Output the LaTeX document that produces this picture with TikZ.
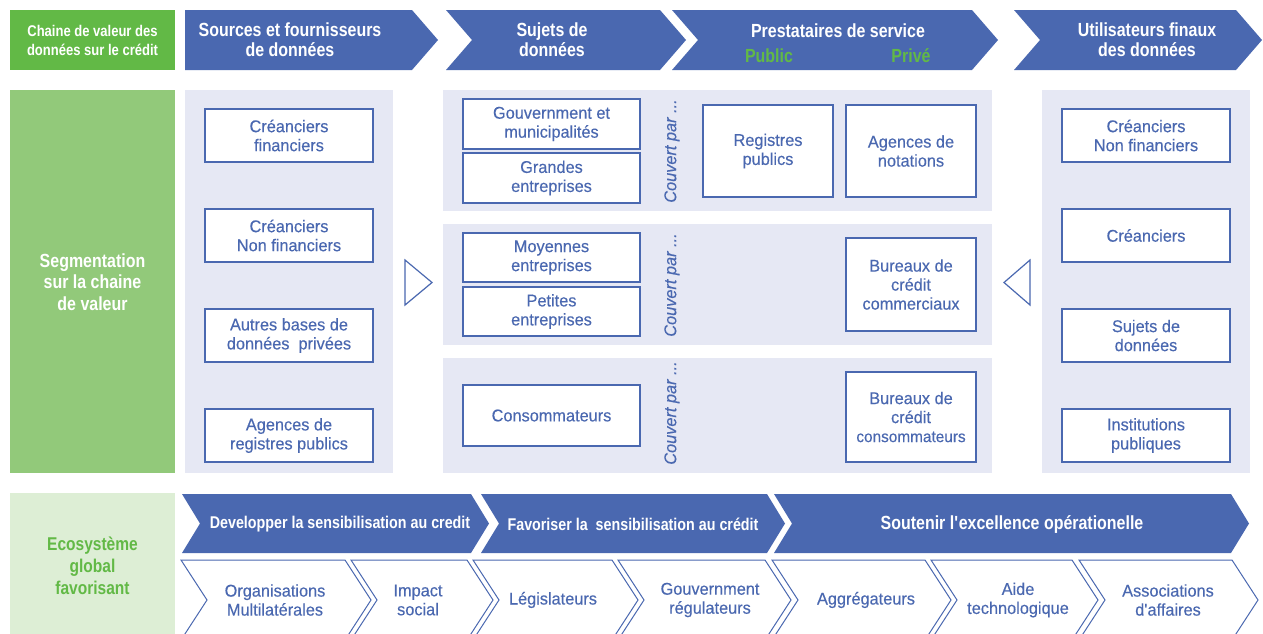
\documentclass[tikz,border=0pt]{standalone}
\usepackage{fontspec}
\setmainfont[FakeStretch=0.96, FakeBold=0.25]{Liberation Sans}
\newfontfamily\condfont[FakeStretch=0.84]{Liberation Sans}
\definecolor{navy}{RGB}{74,104,176}
\definecolor{lavender}{RGB}{230,232,244}
\definecolor{leaf}{RGB}{98,185,70}
\definecolor{softleaf}{RGB}{146,201,122}
\definecolor{paleleaf}{RGB}{221,238,213}
\newcommand\bodyfont{\fontsize{17}{19}\selectfont}
\newcommand\headfont{\condfont\bfseries\fontsize{19}{20}\selectfont}
\newcommand\bandfont{\condfont\bfseries\fontsize{17}{20}\selectfont}
% chevron band: #1 style, #2 left x, #3 right x, #4 top y, #5 bottom y, #6 point depth
\newcommand\chevband[6]{%
  \path[#1] (#2,#4) -- (#3,#4) -- ({#3+#6},{(#4+#5)/2}) -- (#3,#5) -- (#2,#5)
    -- ({#2+#6},{(#4+#5)/2}) -- cycle;}
\begin{document}
\begin{tikzpicture}[x=1pt,y=-1pt,
  itembox/.style={draw=navy, line width=2pt, fill=white, text=navy, align=center,
    font=\bodyfont, inner sep=0pt},
  headtext/.style={text=white, align=center, font=\headfont},
  bandhead/.style={text=white, align=center, font=\bandfont},
  bandtext/.style={text=navy, align=center, font=\bodyfont},
  covered/.style={text=navy, font=\itshape\fontsize{17}{18}\selectfont, rotate=90},
  bluefill/.style={fill=navy},
  outlined/.style={draw=navy, line width=1pt, fill=white},
  pointer/.style={draw=navy, line width=1.2pt, fill=white, line join=miter}]
\clip (0,0) rectangle (1263,633);
\fill[white] (0,0) rectangle (1263,633);

% ---- header row ----
\fill[leaf] (10,10) rectangle (175,70);
\node[headtext, font=\condfont\bfseries\fontsize{15.5}{19}\selectfont] (hchain) at (92.5,40)
  {Chaine de valeur des\\données sur le crédit};
\fill[navy] (185,10) -- (412,10) -- (438,40) -- (412,70) -- (185,70) -- cycle;
\node[headtext] (hsrc) at (290,40) {Sources et fournisseurs\\de données};
\chevband{bluefill}{446}{660}{10}{70}{26}
\node[headtext] (hsubj) at (552,40) {Sujets de\\données};
\chevband{bluefill}{672}{972}{10}{70}{26}
\node[headtext] (hprov) at (838,31) {Prestataires de service};
\node[text=leaf, font=\headfont] (hpub) at (769,56) {Public};
\node[text=leaf, font=\headfont] (hpriv) at (911,56) {Privé};
\chevband{bluefill}{1014}{1236}{10}{70}{26}
\node[headtext] (huser) at (1147,40) {Utilisateurs finaux\\des données};

% ---- segmentation ----
\fill[softleaf] (10,90) rectangle (175,473);
\node[headtext, font=\condfont\bfseries\fontsize{19}{21.5}\selectfont] (hseg) at (92.5,282)
  {Segmentation\\sur la chaine\\de valeur};

\fill[lavender] (185,90) rectangle (393,473);
\node[itembox, minimum width=168, minimum height=53] (s1) at (289,135.5) {Créanciers\\financiers};
\node[itembox, minimum width=168, minimum height=53] (s2) at (289,235.5) {Créanciers\\Non financiers};
\node[itembox, minimum width=168, minimum height=53] (s3) at (289,335.5) {Autres bases de\\données\ \ privées};
\node[itembox, minimum width=168, minimum height=53] (s4) at (289,435.5) {Agences de\\registres publics};

\path[pointer] (405,260) -- (432,282.5) -- (405,305) -- cycle;

\fill[lavender] (443,90) rectangle (992,211);
\fill[lavender] (443,224) rectangle (992,345);
\fill[lavender] (443,358) rectangle (992,473);

\node[itembox, minimum width=177, minimum height=50] (d1) at (551.5,124) {Gouvernment et\\municipalités};
\node[itembox, minimum width=177, minimum height=50] (d2) at (551.5,178) {Grandes\\entreprises};
\node[covered] (c1) at (672,151) {Couvert par ...};
\node[itembox, minimum width=130, minimum height=92] (p1) at (768,151) {Registres\\publics};
\node[itembox, minimum width=130, minimum height=92] (p2) at (911,151) {Agences de\\notations};

\node[itembox, minimum width=177, minimum height=49] (d3) at (551.5,257.5) {Moyennes\\entreprises};
\node[itembox, minimum width=177, minimum height=49] (d4) at (551.5,311.5) {Petites\\entreprises};
\node[covered] (c2) at (672,285) {Couvert par ...};
\node[itembox, minimum width=130, minimum height=93] (p3) at (911,284.5) {Bureaux de\\crédit\\commerciaux};

\node[itembox, minimum width=177, minimum height=61] (d5) at (551.5,415.5) {Consommateurs};
\node[covered] (c3) at (672,413) {Couvert par ...};
\node[itembox, minimum width=130, minimum height=90] (p4) at (911,417)
  {Bureaux de\\crédit\\{\fontsize{16}{17}\selectfont consommateurs}};

\path[pointer] (1030,260) -- (1004,282.5) -- (1030,305) -- cycle;

\fill[lavender] (1042,90) rectangle (1250,473);
\node[itembox, minimum width=168, minimum height=53] (u1) at (1146,135.5) {Créanciers\\Non financiers};
\node[itembox, minimum width=168, minimum height=53] (u2) at (1146,235.5) {Créanciers};
\node[itembox, minimum width=168, minimum height=53] (u3) at (1146,335.5) {Sujets de\\données};
\node[itembox, minimum width=168, minimum height=53] (u4) at (1146,435.5) {Institutions\\publiques};

% ---- enabling ecosystem ----
\fill[paleleaf] (10,493) rectangle (175,640);
\node[text=leaf, align=center, font=\condfont\bfseries\fontsize{18.5}{22}\selectfont] (heco) at (92.5,566)
  {Ecosystème\\global\\favorisant};

\chevband{bluefill}{182}{471}{494}{553}{18}
\node[bandhead] (e1) at (340,524) {Developper la sensibilisation au credit};
\chevband{bluefill}{481}{767}{494}{553}{18}
\node[bandhead] (e2) at (633,524) {Favoriser la\ \ sensibilisation au crédit};
\chevband{bluefill}{774}{1231}{494}{553}{18}
\node[bandhead, font=\condfont\bfseries\fontsize{19}{20}\selectfont] (e3) at (1012,524)
  {Soutenir l\textquotesingle excellence opérationelle};

\chevband{outlined}{181}{345}{560}{640}{26}
\node[bandtext] (a1) at (275,600) {Organisations\\Multilatérales};
\chevband{outlined}{351}{467}{560}{640}{26}
\node[bandtext] (a2) at (418,600) {Impact\\social};
\chevband{outlined}{473}{612}{560}{640}{26}
\node[bandtext] (a3) at (553,600) {Législateurs};
\chevband{outlined}{618}{765}{560}{640}{26}
\node[bandtext] (a4) at (710,600) {Gouvernment\\régulateurs};
\chevband{outlined}{772}{925}{560}{640}{26}
\node[bandtext] (a5) at (866,600) {Aggrégateurs};
\chevband{outlined}{931}{1072}{560}{640}{26}
\node[bandtext] (a6) at (1018,600) {Aide\\technologique};
\chevband{outlined}{1079}{1232}{560}{640}{26}
\node[bandtext] (a7) at (1168,600) {Associations\\d\textquotesingle affaires};
\end{tikzpicture}
\end{document}
